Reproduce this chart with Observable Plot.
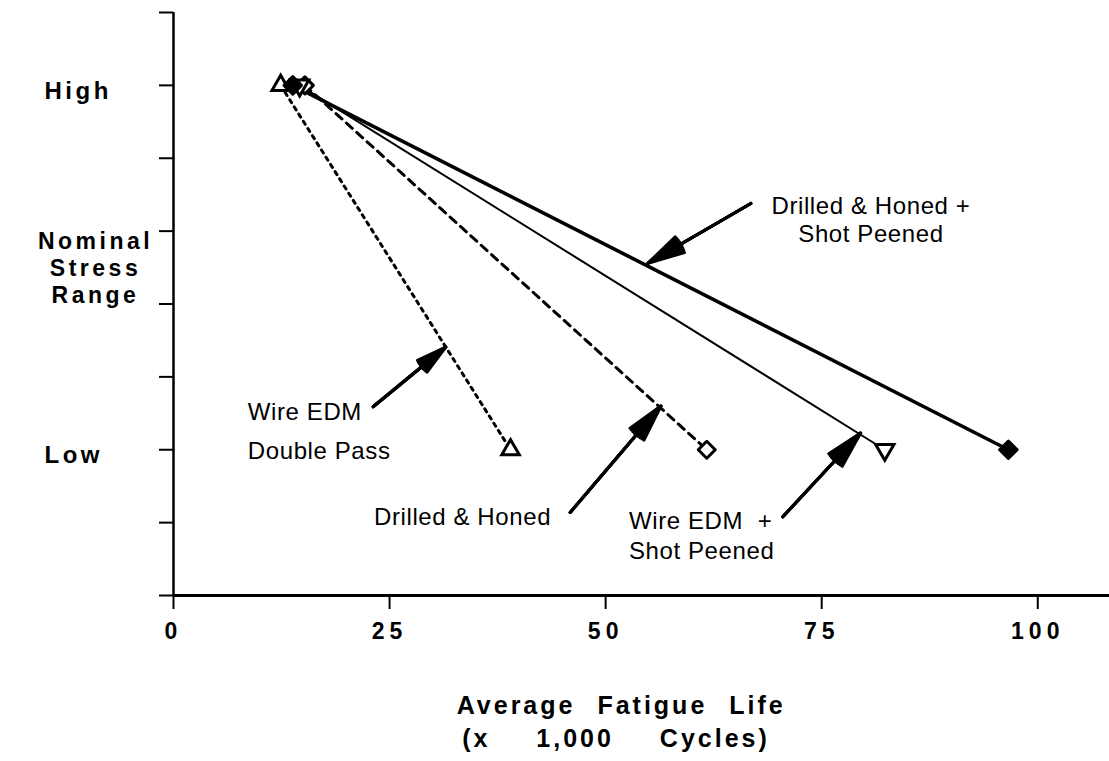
<!DOCTYPE html>
<html>
<head>
<meta charset="utf-8">
<script src="https://cdn.jsdelivr.net/npm/d3@7"></script>
<script src="https://cdn.jsdelivr.net/npm/@observablehq/plot@0.6"></script>
<style>
  html, body { margin: 0; padding: 0; background: #fff; }
  text[aria-label="ylab"] { letter-spacing: 3.5px; }
  g[aria-label="x-axis tick label"] text { letter-spacing: 5px; }
  text[aria-label="xtitle1"] { letter-spacing: 3px; word-spacing: 12px; }
  text[aria-label="xtitle2"] { letter-spacing: 3px; word-spacing: 36px; }
  text[aria-label="note"] { letter-spacing: 0.6px; }
</style>
</head>
<body>
<div id="chart"></div>
<script>
// ---- data ----
const series = ["Wire EDM Double Pass", "Drilled & Honed", "Wire EDM + Shot Peened", "Drilled & Honed + Shot Peened"];
const lifeAtHigh = [12.4, 15.2, 14.6, 13.8];   // x 1,000 cycles
const lifeAtLow  = [39.0, 61.7, 82.3, 96.6];
const stressLevels = ["High", "Low"];
const stressPos = [7, 2];                       // position on the unlabeled stress axis
const xTicks = [0, 25, 50, 75, 100];
const yTicks = [0, 1, 2, 3, 4, 5, 6, 7, 8];
const yAxisLabels = ["Nominal", "Stress", "Range"];
const yAxisLabelPos = [4.99, 4.62, 4.25];

// annotation texts and arrow (tail -> head) in data units
const noteText = ["Drilled & Honed +\nShot Peened", "Wire EDM\nDouble Pass", "Drilled & Honed", "Wire EDM  +\nShot Peened"];
const noteX = [80.7, 8.6, 23.2, 52.7];
const noteY = [5.17, 2.31, 1.10, 0.84];
const noteAnchor = ["middle", "start", "start", "start"];
const noteLineHeight = [1.17, 1.6, 1.2, 1.25];
const arrowX1 = [66.8, 23.1, 45.9, 70.5];
const arrowY1 = [5.38, 2.59, 1.14, 1.08];
const arrowX2 = [54.9, 31.5, 56.4, 79.5];
const arrowY2 = [4.56, 3.41, 2.60, 2.23];

// ---- build tables ----
const pts = [];
series.forEach((s, i) => {
  pts.push({series: s, level: stressLevels[0], life: lifeAtHigh[i], y: stressPos[0]});
  pts.push({series: s, level: stressLevels[1], life: lifeAtLow[i], y: stressPos[1]});
});
const bySeries = s => pts.filter(d => d.series === s);
const notes = noteText.map((t, i) => ({t, x: noteX[i], y: noteY[i], anchor: noteAnchor[i], lh: noteLineHeight[i]}));
const arrows = arrowX1.map((x1, i) => ({x1, y1: arrowY1[i], x2: arrowX2[i], y2: arrowY2[i]}));

const lineStyles = [
  {strokeWidth: 3, strokeDasharray: "3.5,5"},
  {strokeWidth: 3, strokeDasharray: "8,6"},
  {strokeWidth: 2},
  {strokeWidth: 3.6}
];
const dotStyles = [
  {symbol: "triangle", r: 6.5, fill: "white", stroke: "black", strokeWidth: 3},
  {symbol: "square", r: 6.8, fill: "white", stroke: "black", strokeWidth: 3, rotate: 45, strokeLinejoin: "round"},
  {symbol: "triangle", r: 6.8, fill: "white", stroke: "black", strokeWidth: 3, rotate: 180},
  {symbol: "square", r: 7, fill: "black", stroke: "black", strokeWidth: 3, strokeLinejoin: "round", rotate: 45}
];

const marks = [];
// axes lines
marks.push(Plot.ruleY([0], {x1: 0, x2: 108.3, strokeWidth: 3}));
marks.push(Plot.ruleX([0], {y1: 0, y2: 8, strokeWidth: 2.5}));
marks.push(Plot.axisX({ticks: xTicks, tickSize: 14, tickPadding: 13, strokeWidth: 2, fontSize: 23, fontWeight: "bold", label: null}));
marks.push(Plot.axisY({ticks: yTicks, tickSize: 14, strokeWidth: 2, tickFormat: () => "", label: null}));

// y labels
marks.push(Plot.text(stressLevels.map((t, i) => ({t, y: stressPos[i]})), {x: 0, y: "y", text: "t", dx: -129, dy: 6, textAnchor: "start", fontSize: 24, fontWeight: "bold", ariaLabel: () => "ylab"}));
marks.push(Plot.text(yAxisLabels.map((t, i) => ({t, y: yAxisLabelPos[i]})), {x: 0, y: "y", text: "t", dx: -78, dy: 10, textAnchor: "middle", fontSize: 23, fontWeight: "bold", ariaLabel: () => "ylab"}));

// x title
marks.push(Plot.text(["Average Fatigue Life"], {x: 51.8, y: -1.52, text: d => d, fontSize: 25, fontWeight: "bold", ariaLabel: () => "xtitle1"}));
marks.push(Plot.text(["(x 1,000 Cycles)"], {x: 51.2, y: -1.97, text: d => d, fontSize: 25, fontWeight: "bold", ariaLabel: () => "xtitle2"}));

// series
series.forEach((s, i) => {
  marks.push(Plot.line(bySeries(s), {x: "life", y: "y", stroke: "black", ...lineStyles[i]}));
});
series.forEach((s, i) => {
  marks.push(Plot.dot(bySeries(s), {x: "life", y: "y", ...dotStyles[i]}));
});

// arrows (filled-looking heads)
[28, 21, 14, 7].forEach(a => {
  marks.push(Plot.arrow(arrows, {x1: "x1", y1: "y1", x2: "x2", y2: "y2", stroke: "black", strokeWidth: 3, headLength: 19, headAngle: a}));
});

// annotation text
notes.forEach(n => {
  marks.push(Plot.text([n], {x: "x", y: "y", text: "t", textAnchor: n.anchor, lineHeight: n.lh, fontSize: 24, fill: "black", ariaLabel: () => "note"}));
});

const chart = Plot.plot({
  width: 1109,
  height: 761,
  marginLeft: 173,
  marginRight: 0,
  marginTop: 12,
  marginBottom: 166,
  x: {domain: [0, 108.3], axis: null},
  y: {domain: [0, 8], axis: null},
  style: {fontFamily: "'Liberation Sans', Arial, sans-serif", background: "white", color: "black", overflow: "visible"},
  marks
});
document.getElementById("chart").append(chart);
</script>
</body>
</html>
